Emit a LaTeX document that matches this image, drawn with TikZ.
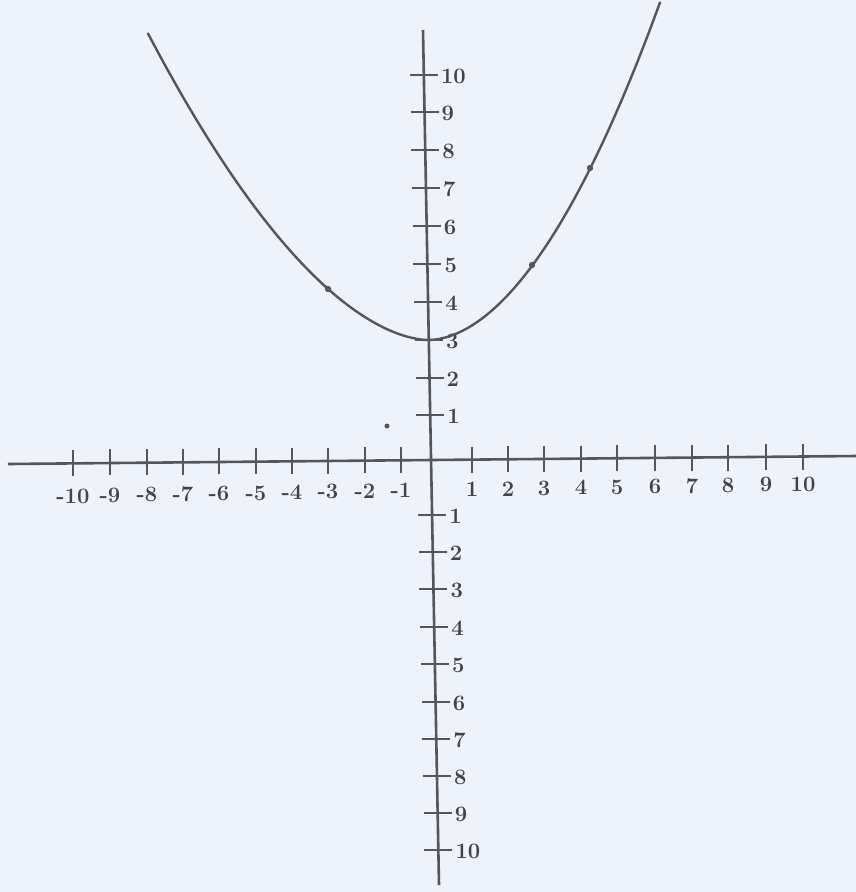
\documentclass[tikz,border=0pt]{standalone}
\usepackage{tikz}
\definecolor{bgc}{RGB}{238,242,251}
\definecolor{ink}{RGB}{85,86,92}
\definecolor{txt}{RGB}{66,66,72}
\tikzset{
  axisline/.style={draw=ink, line width=2.6pt},
  tickline/.style={draw=ink, line width=2.4pt},
  curveline/.style={draw=ink, line width=2.4pt, line cap=round, line join=round},
  lbl/.style={text=txt, font=\fontsize{22}{22}\selectfont\bfseries, inner sep=0pt},
  dotmark/.style={fill=ink, draw=none}
}
\begin{document}
\begin{tikzpicture}[x=1pt,y=-1pt]
\fill[bgc] (0,0) rectangle (856,892);
\useasboundingbox (0,0) rectangle (856,892);
% axes
\coordinate (xl) at (8,464);
\coordinate (xr) at (856,456);
\coordinate (yt) at (423,30);
\coordinate (yb) at (439,885);
\draw[axisline] (xl) -- (xr);
\draw[axisline] (yt) -- (yb);
% x ticks
\foreach \px/\t in {73/-10,110/-9,147/-8,183/-7,219/-6,256/-5,292/-4,328/-3,365/-2,401/-1,472/1,508/2,544/3,581/4,617/5,655/6,692/7,728/8,766/9,803/10}{
  \pgfmathsetmacro{\yc}{463.5-(\px-73)*5.5/730}
  \pgfmathsetmacro{\yl}{496-(\px-73)*12/730}
  \draw[tickline] (\px,\yc-14) -- (\px,\yc+12);
  \node[lbl] (xt\t) at (\px,\yl) {\t};
}
% y ticks (upper)
\foreach \py/\t in {75/10,112/9,150/8,188/7,226/6,264/5,302/4,340/3,378/2,415/1}{
  \pgfmathsetmacro{\xc}{423+(\py-30)*16/855}
  \draw[tickline] (\xc-14,\py) -- (\xc+14,\py);
  \node[lbl,anchor=west] (yu\t) at (\xc+17,\py+1) {\t};
}
% y ticks (lower)
\foreach \py/\t in {515/1,552/2,589/3,627/4,664/5,702/6,739/7,776/8,813/9,850/10}{
  \pgfmathsetmacro{\xc}{423+(\py-30)*16/855}
  \draw[tickline] (\xc-14,\py) -- (\xc+14,\py);
  \node[lbl,anchor=west] (yd\t) at (\xc+17,\py+1) {\t};
}
% curve
\draw[curveline]
  plot[domain=-2.8:0, samples=70] ({428+100*\x},{340-51.1*pow(abs(\x)+0.0001,1.74)})
  -- plot[domain=0:2.32, samples=60] ({428+100*\x},{340-68.8*pow(abs(\x)+0.0001,1.89)});
% dots
\fill[dotmark] (328,289) circle (3.2);
\fill[dotmark] (532,265) circle (3.2);
\fill[dotmark] (590,168) circle (3.2);
\fill[dotmark] (387,426) circle (2.5);
\end{tikzpicture}
\end{document}
